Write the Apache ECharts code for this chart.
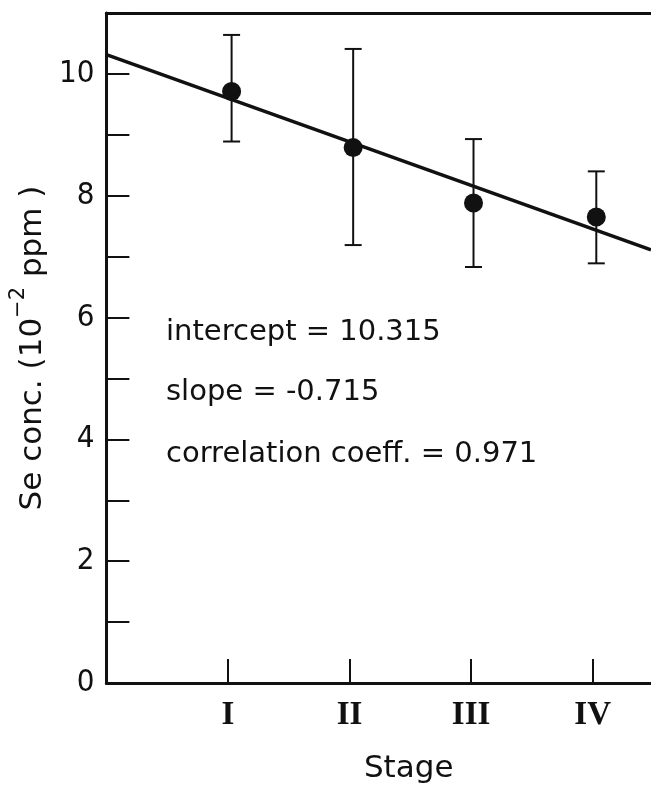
<!DOCTYPE html>
<html>
<head>
<meta charset="utf-8">
<script src="https://cdn.jsdelivr.net/npm/echarts@6/dist/echarts.min.js"></script>
<style>
  html, body { margin: 0; padding: 0; background: #fff; }
  #chart { width: 651px; height: 789px; }
</style>
</head>
<body>
<div id="chart"></div>
<script>
// stage positions (points sit a hair right of the ticks in the scan)
const stagePos = [1.03, 2.03, 3.02, 4.03];
const stageTicks = [1, 2, 3, 4];
const stageLabels = ['I', 'II', 'III', 'IV'];
const seMean = [9.71, 8.79, 7.88, 7.65];
const seUpper = [10.64, 10.41, 8.93, 8.40];
const seLower = [8.89, 7.19, 6.83, 6.89];
const yLabels = [0, 2, 4, 6, 8, 10];

// regression from the figure
const intercept = 10.315;
const slope = -0.715;
const corr = 0.971;
// the scan is cut off on the right, so the x axis stops short of 5
const xRange = [0, 4.48];

const ink = '#111';
const sans = 'DejaVu Sans';
const narrow = '"DejaVu Sans Condensed", "DejaVu Sans"';
const textFont = '29px "DejaVu Sans"';

let myChart = echarts.init(document.getElementById('chart'), null, { renderer: 'canvas' });

const fitLine = xRange.map(x => [x, intercept + slope * x]);
const points = stagePos.map((x, i) => [x, seMean[i]]);
const bars = stagePos.map((x, i) => [x, seLower[i], seUpper[i]]);

const option = {
  backgroundColor: '#fff',
  animation: false,
  grid: {
    left: 104,
    top: 13,
    right: 0,
    bottom: 102.5
  },
  xAxis: [
    {
      type: 'value',
      min: xRange[0],
      max: xRange[1],
      name: 'Stage',
      nameLocation: 'middle',
      nameGap: 70,
      nameTextStyle: { color: ink, fontFamily: sans, fontSize: 31, padding: [0, 0, 0, 60] },
      axisLine: { show: true, onZero: false, lineStyle: { color: ink, width: 3 } },
      axisTick: { show: true, inside: true, length: 24, customValues: stageTicks, lineStyle: { color: ink, width: 2 } },
      axisLabel: {
        customValues: stageTicks,
        margin: 16,
        color: ink,
        fontFamily: 'Liberation Serif',
        fontWeight: 'bold',
        fontSize: 33,
        formatter: v => stageLabels[stageTicks.indexOf(v)] || ''
      },
      splitLine: { show: false }
    },
    {
      // top frame line only
      type: 'value',
      position: 'top',
      min: xRange[0],
      max: xRange[1],
      axisLine: { show: true, onZero: false, lineStyle: { color: ink, width: 3 } },
      axisTick: { show: false },
      axisLabel: { show: false },
      splitLine: { show: false }
    }
  ],
  yAxis: {
    type: 'value',
    min: 0,
    max: 11,
    interval: 1,
    name: '{a|Se conc. (10}{s|−2}{a| ppm )}',
    nameLocation: 'middle',
    nameGap: 58,
    nameRotate: 90,
    nameTextStyle: {
      rich: {
        a: { color: ink, fontFamily: sans, fontSize: 31, lineHeight: 40, verticalAlign: 'bottom' },
        s: { color: ink, fontFamily: sans, fontSize: 21, lineHeight: 40, verticalAlign: 'top' }
      }
    },
    axisLine: { show: true, onZero: false, lineStyle: { color: ink, width: 3 } },
    axisTick: { show: true, inside: true, length: 23, lineStyle: { color: ink, width: 2 } },
    axisLabel: {
      customValues: yLabels,
      margin: 12,
      color: ink,
      fontFamily: narrow,
      fontSize: 31
    },
    splitLine: { show: false }
  },
  graphic: [
    { type: 'text', left: 166, top: 318, style: { text: 'intercept = 10.315', fill: ink, font: textFont } },
    { type: 'text', left: 166, top: 378, style: { text: 'slope = ' + slope.toFixed(3), fill: ink, font: textFont } },
    { type: 'text', left: 166, top: 440, style: { text: 'correlation coeff. = ' + corr.toFixed(3), fill: ink, font: textFont } }
  ],
  series: [
    {
      type: 'line',
      data: fitLine,
      showSymbol: false,
      lineStyle: { color: ink, width: 3.5 },
      z: 2
    },
    {
      type: 'custom',
      data: bars,
      renderItem: function (params, api) {
        const x = api.value(0);
        const lo = api.coord([x, api.value(1)]);
        const hi = api.coord([x, api.value(2)]);
        const cap = 8.5;
        const style = { stroke: ink, lineWidth: 2 };
        return {
          type: 'group',
          children: [
            { type: 'line', shape: { x1: lo[0], y1: lo[1], x2: hi[0], y2: hi[1] }, style: style },
            { type: 'line', shape: { x1: hi[0] - cap, y1: hi[1], x2: hi[0] + cap, y2: hi[1] }, style: style },
            { type: 'line', shape: { x1: lo[0] - cap, y1: lo[1], x2: lo[0] + cap, y2: lo[1] }, style: style }
          ]
        };
      },
      z: 3
    },
    {
      type: 'scatter',
      data: points,
      symbol: 'circle',
      symbolSize: 19,
      itemStyle: { color: ink, opacity: 1 },
      z: 4
    }
  ]
};

myChart.setOption(option);
</script>
</body>
</html>
